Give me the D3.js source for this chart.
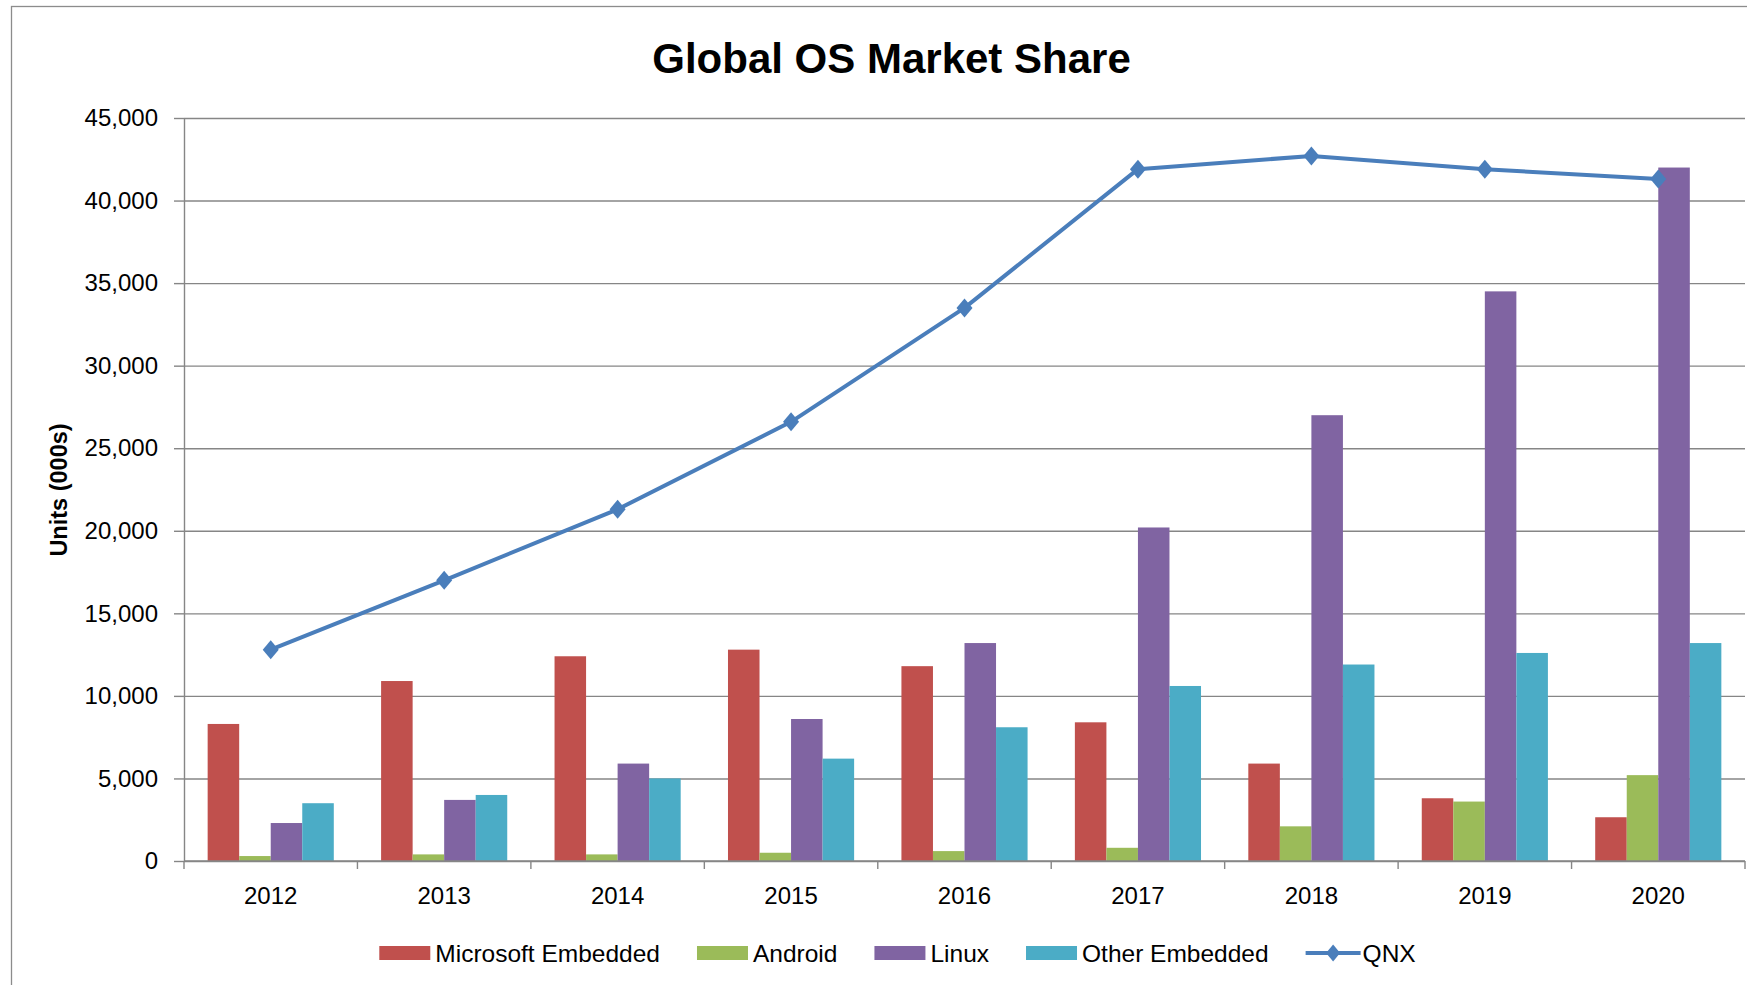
<!DOCTYPE html>
<html>
<head>
<meta charset="utf-8">
<script src="https://cdn.jsdelivr.net/npm/d3@7"></script>
<style>
  body { margin: 0; background: #fff; }
  svg { display: block; }
  text { font-family: "Liberation Sans", Arial, sans-serif; fill: #000; }
</style>
</head>
<body>
<svg id="chart" width="1747" height="985"></svg>
<script>
// data
var years = ["2012","2013","2014","2015","2016","2017","2018","2019","2020"];
var microsoft = [8300, 10900, 12400, 12800, 11800, 8400, 5900, 3800, 2650];
var android = [300, 400, 400, 500, 600, 800, 2100, 3600, 5200];
var linux = [2300, 3700, 5900, 8600, 13200, 20200, 27000, 34500, 42000];
var other = [3500, 4000, 5000, 6200, 8100, 10600, 11900, 12600, 13200];
var qnx = [12800, 17000, 21300, 26600, 33500, 41900, 42700, 41900, 41300];
var yTicks = [0, 5000, 10000, 15000, 20000, 25000, 30000, 35000, 40000, 45000];

var barSeries = [
    {name: "Microsoft Embedded", values: microsoft, color: "#C0504D"},
    {name: "Android", values: android, color: "#9BBB59"},
    {name: "Linux", values: linux, color: "#8064A2"},
    {name: "Other Embedded", values: other, color: "#4BACC6"}
];
var lineColor = "#4A7EBB";
var gridColor = "#868686";

var svg = d3.select("#chart");

// chart frame
var frame = {left: 11, top: 6, width: 1761, height: 1040};
var chartCx = frame.left + frame.width / 2;
svg.append("rect")
    .attr("x", frame.left + 0.5).attr("y", frame.top + 0.5)
    .attr("width", frame.width).attr("height", frame.height)
    .attr("fill", "none").attr("stroke", "#8c8c8c").attr("stroke-width", 1.3);

var plot = {left: 184, right: 1745, top: 118, bottom: 861};

var x = d3.scaleBand().domain(years).range([plot.left, plot.right]);
var x1 = d3.scaleBand().domain(barSeries.map(function(d){return d.name;}))
    .range([0, x.bandwidth()]).paddingOuter(0.75);
var y = d3.scaleLinear().domain([0, 45000]).range([plot.bottom, plot.top]);

// title
svg.append("text")
    .attr("x", chartCx).attr("y", 73)
    .attr("text-anchor", "middle")
    .attr("font-size", 42).attr("font-weight", "bold")
    .text("Global OS Market Share");

// gridlines
var grid = svg.append("g")
    .attr("transform", "translate(" + plot.left + ",0)")
    .call(d3.axisLeft(y).tickValues(yTicks).tickSize(-(plot.right - plot.left)).tickFormat(""));
grid.select(".domain").remove();
grid.selectAll("line").attr("stroke", gridColor).attr("stroke-width", 1.4);

// y axis
var yAxis = svg.append("g")
    .attr("transform", "translate(" + plot.left + ",0)")
    .call(d3.axisLeft(y).tickValues(yTicks).tickSize(10).tickSizeOuter(0)
        .tickPadding(16).tickFormat(d3.format(",")));
yAxis.select(".domain").attr("stroke", gridColor).attr("stroke-width", 1.4);
yAxis.selectAll("line").attr("stroke", gridColor).attr("stroke-width", 1.4);
yAxis.selectAll("text").attr("font-size", 24).attr("fill", "#000")
    .attr("font-family", "Liberation Sans, Arial, sans-serif");

svg.append("text")
    .attr("transform", "translate(67,490) rotate(-90)")
    .attr("text-anchor", "middle")
    .attr("font-size", 23.5).attr("font-weight", "bold")
    .text("Units (000s)");

// bars
var groups = svg.append("g").selectAll("g.year")
    .data(years)
    .enter().append("g")
    .attr("class", "year")
    .attr("transform", function(d){return "translate(" + x(d) + ",0)";});
groups.selectAll("rect")
    .data(function(d, i){
        return barSeries.map(function(s){return {name: s.name, value: s.values[i], color: s.color};});
    })
    .enter().append("rect")
    .attr("x", function(d){return x1(d.name);})
    .attr("y", function(d){return y(d.value);})
    .attr("width", x1.bandwidth())
    .attr("height", function(d){return y(0) - y(d.value);})
    .attr("fill", function(d){return d.color;});

// x axis
svg.append("line")
    .attr("x1", plot.left).attr("x2", plot.right)
    .attr("y1", y(0)).attr("y2", y(0))
    .attr("stroke", gridColor).attr("stroke-width", 1.4);
svg.append("g").selectAll("line")
    .data(years.concat(["end"]))
    .enter().append("line")
    .attr("x1", function(d){return d == "end" ? plot.right : x(d);})
    .attr("x2", function(d){return d == "end" ? plot.right : x(d);})
    .attr("y1", y(0)).attr("y2", y(0) + 8)
    .attr("stroke", gridColor).attr("stroke-width", 1.4);
svg.append("g").selectAll("text")
    .data(years)
    .enter().append("text")
    .attr("x", function(d){return x(d) + x.bandwidth() / 2;})
    .attr("y", y(0) + 43)
    .attr("text-anchor", "middle")
    .attr("font-size", 24)
    .text(function(d){return d;});

// QNX line
function diamond(w, h){
    return "M0," + (-h) + "L" + w + ",0L0," + h + "L" + (-w) + ",0Z";
}
var line = d3.line()
    .x(function(d, i){return x(years[i]) + x.bandwidth() / 2;})
    .y(function(d){return y(d);});
svg.append("path")
    .datum(qnx)
    .attr("d", line)
    .attr("fill", "none")
    .attr("stroke", lineColor)
    .attr("stroke-width", 4)
    .attr("stroke-linejoin", "round");
svg.append("g").selectAll("path")
    .data(qnx)
    .enter().append("path")
    .attr("transform", function(d, i){return "translate(" + (x(years[i]) + x.bandwidth() / 2) + "," + y(d) + ")";})
    .attr("d", diamond(8, 9.5))
    .attr("fill", lineColor);

// legend
var legendItems = barSeries.map(function(s){return {name: s.name, color: s.color, type: "bar"};})
    .concat([{name: "QNX", color: lineColor, type: "line"}]);
var legend = svg.append("g").attr("class", "legend");
var lx = 0;
var ly = 953;
legendItems.forEach(function(d, i){
    var g = legend.append("g").attr("transform", "translate(" + lx + ",0)");
    if(d.type == "bar"){
        g.append("rect")
            .attr("x", 0).attr("y", ly - 7)
            .attr("width", 51).attr("height", 14)
            .attr("fill", d.color);
    }else{
        g.append("line")
            .attr("x1", 0).attr("x2", 55)
            .attr("y1", ly).attr("y2", ly)
            .attr("stroke", d.color).attr("stroke-width", 4);
        g.append("path")
            .attr("transform", "translate(27.5," + ly + ")")
            .attr("d", diamond(7, 8.5))
            .attr("fill", d.color);
    }
    var t = g.append("text")
        .attr("x", d.type == "bar" ? 56 : 57)
        .attr("y", ly)
        .attr("dy", "0.36em")
        .attr("font-size", 24.5)
        .text(d.name);
    var w = (d.type == "bar" ? 56 : 57) + t.node().getComputedTextLength();
    lx += w + 37;
});
var legendW = lx - 37;
legend.attr("transform", "translate(" + (chartCx + 6 - legendW / 2) + ",0)");
</script>
</body>
</html>
